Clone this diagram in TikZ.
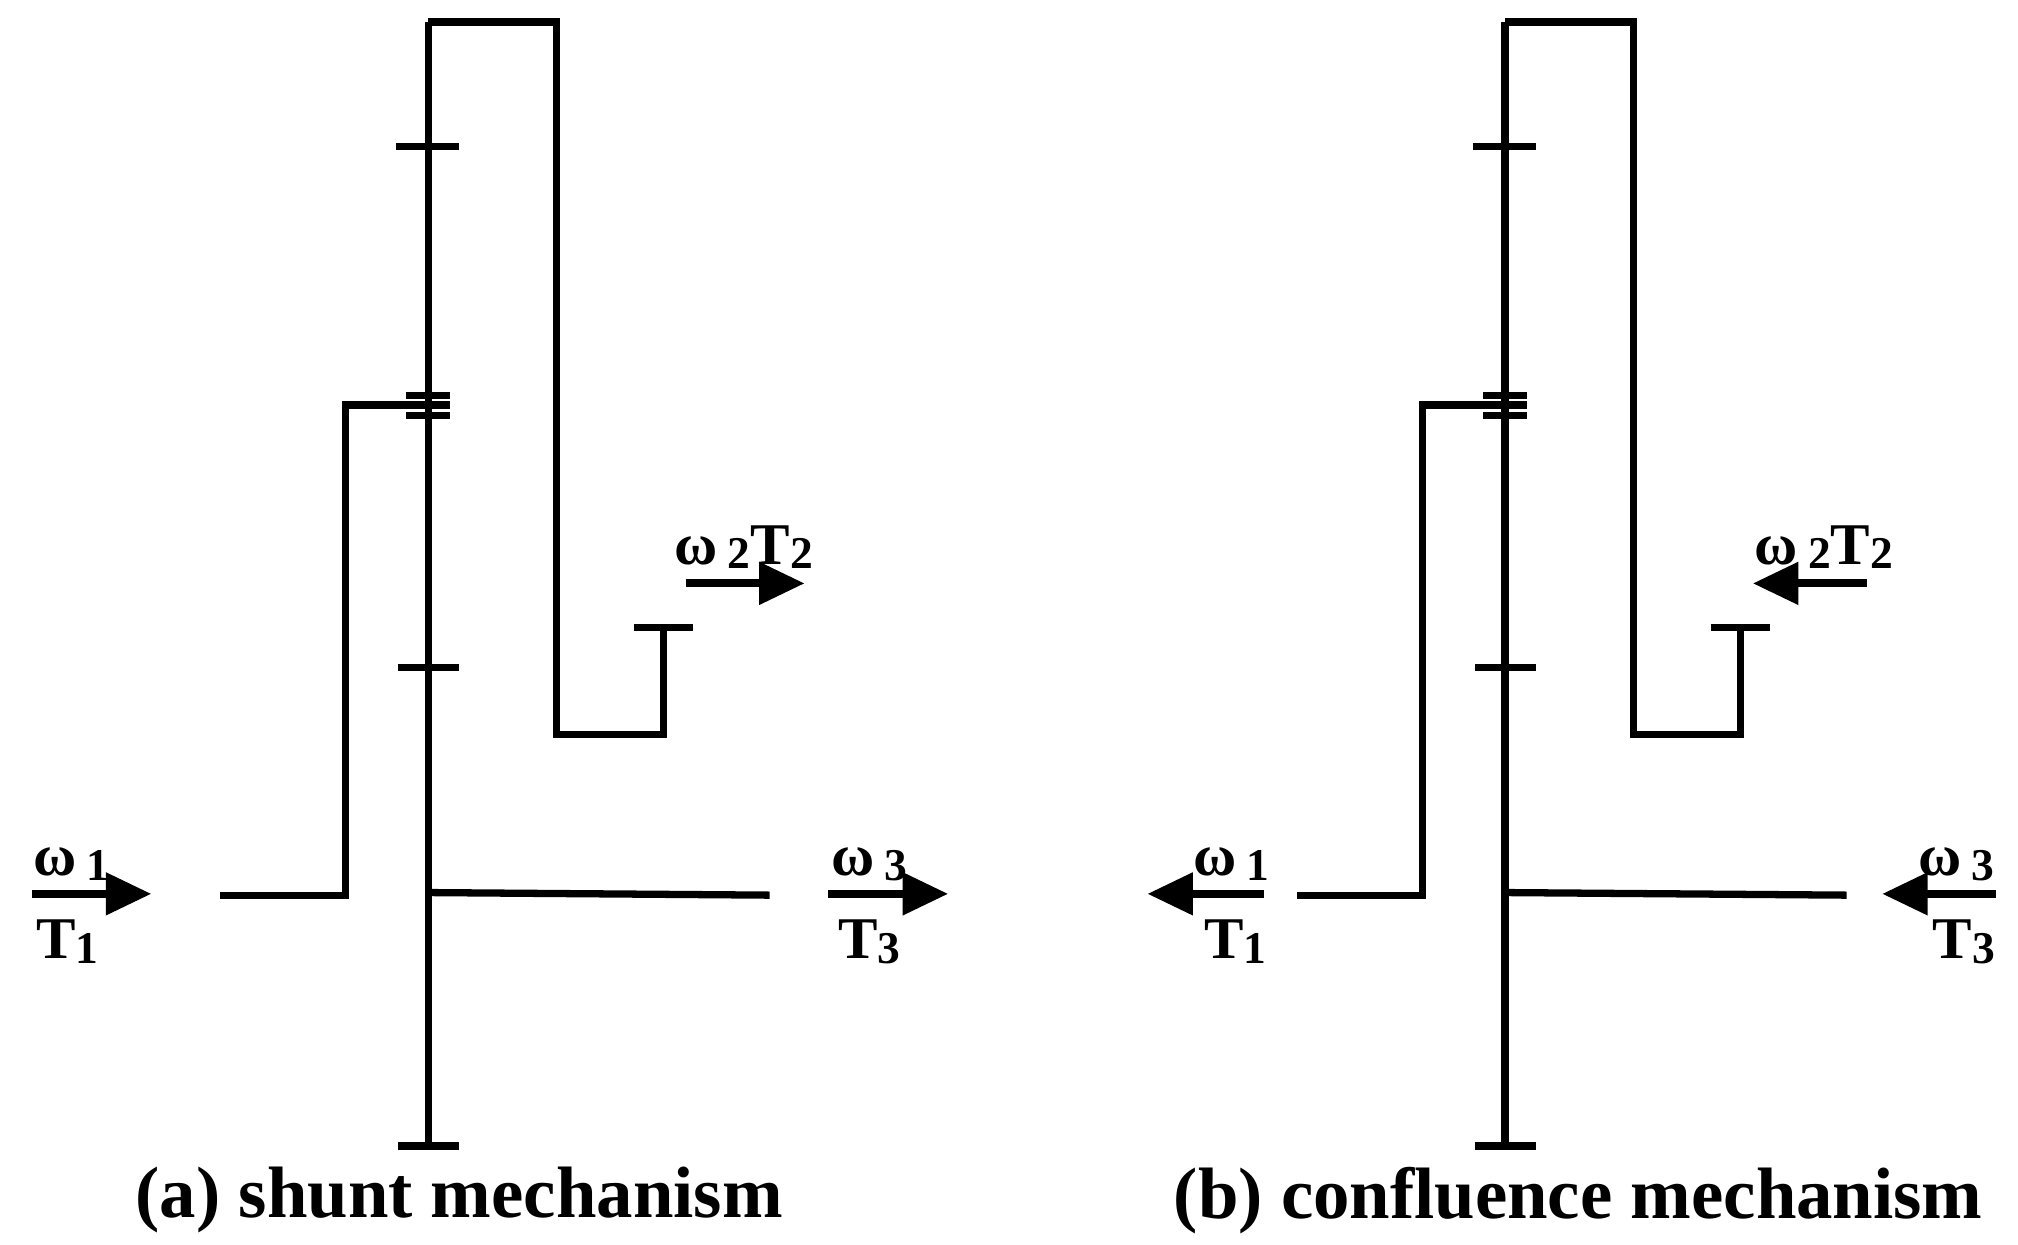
\documentclass[tikz,border=0pt]{standalone}
\usepackage{fontspec}
\setmainfont{Liberation Serif}
\usetikzlibrary{arrows.meta}
\tikzset{ln/.style={line width=1.6pt},
  arr/.style={line width=1.8pt,-{Triangle[length=10pt,width=9pt]}},
  lab/.style={font=\fontsize{13}{13}\selectfont\bfseries,inner sep=0pt},
  captxt/.style={font=\fontsize{16}{16}\selectfont\bfseries,inner sep=0pt}}
\newcommand{\subn}[1]{\,\raisebox{-1pt}{\fontsize{10}{10}\selectfont #1}}
\newcommand{\subt}[1]{\raisebox{-1pt}{\fontsize{10}{10}\selectfont #1}}
\newcommand{\mech}{%
  \draw[ln] (331,17) -- (331,886);
  \draw[ln] (331,17) -- (430,17) -- (430,568) -- (513,568) -- (513,485);
  \draw[ln] (490,485) -- (536,485);
  \draw[ln] (306,113) -- (355,113);
  \draw[ln] (308,516) -- (355,516);
  \draw[ln] (308,886) -- (355,886);
  \draw[ln] (314,306) -- (348,306);
  \draw[ln] (314,321) -- (348,321);
  \draw[ln] (170,692) -- (267,692) -- (267,313) -- (348,313);
  \draw[ln] (331,690) -- (595,692);
}
\begin{document}
\begin{tikzpicture}[x=0.01cm,y=-0.01cm]
\useasboundingbox (0,0) rectangle (1560,962);
\begin{scope}
\mech
\coordinate (a1) at (25,691); \coordinate (b1) at (117,691);
\draw[arr] (a1) -- (b1);
\node[lab] (w1) at (55,668) {ω\subn{1}};
\node[lab] (t1) at (52,728) {T\subt{1}};
\coordinate (a3) at (640,691); \coordinate (b3) at (733,691);
\draw[arr] (a3) -- (b3);
\node[lab] (w3) at (672,668) {ω\subn{3}};
\node[lab] (t3) at (672,728) {T\subt{3}};
\coordinate (a2) at (530,451); \coordinate (b2) at (622,451);
\draw[arr] (a2) -- (b2);
\node[lab] (w2) at (575,423) {ω\subn{2}T\subt{2}};
\node[captxt] (ca) at (355,928) {(a) shunt mechanism};
\end{scope}
\begin{scope}[xshift=8.32cm]
\mech
\end{scope}
\coordinate (c1) at (977,691); \coordinate (d1) at (887,691);
\draw[arr] (c1) -- (d1);
\node[lab] (w1b) at (952,668) {ω\subn{1}};
\node[lab] (t1b) at (955,728) {T\subt{1}};
\coordinate (c3) at (1543,691); \coordinate (d3) at (1455,691);
\draw[arr] (c3) -- (d3);
\node[lab] (w3b) at (1512,668) {ω\subn{3}};
\node[lab] (t3b) at (1518,728) {T\subt{3}};
\coordinate (c2) at (1443,451); \coordinate (d2) at (1355,451);
\draw[arr] (c2) -- (d2);
\node[lab] (w2b) at (1410,423) {ω\subn{2}T\subt{2}};
\node[captxt] (cb) at (1220,928) {(b) confluence mechanism};
\end{tikzpicture}
\end{document}
